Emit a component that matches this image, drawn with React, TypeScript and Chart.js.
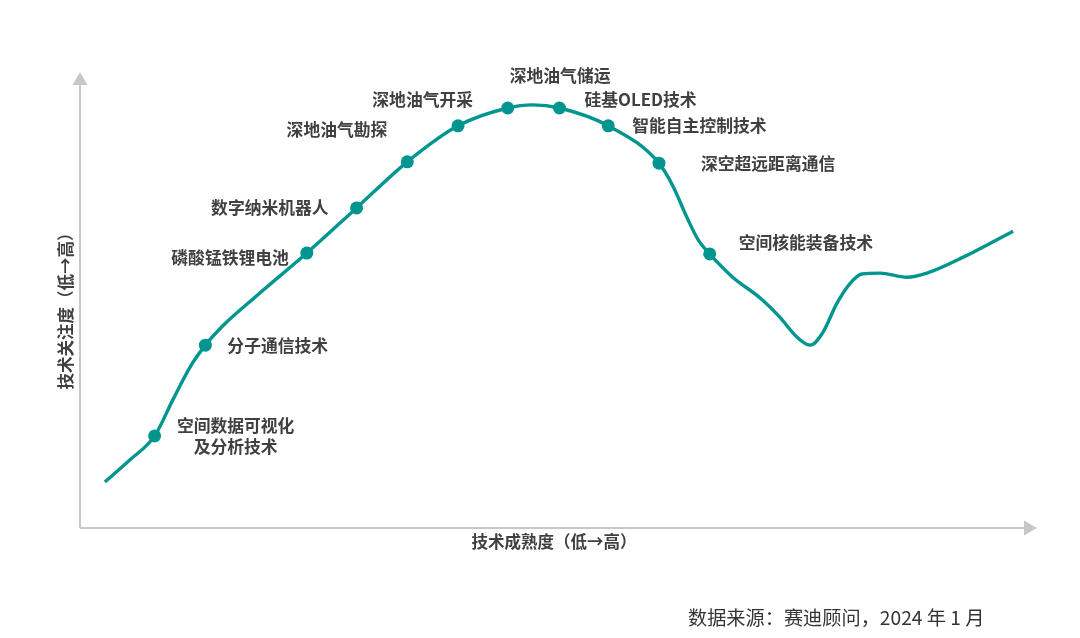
import React, { useEffect, useRef } from 'react';
import { Chart, registerables } from 'chart.js';
import type { Plugin } from 'chart.js';

Chart.register(...registerables);

// curve samples (x = maturity, y = attention)
const curveX = [
  2.6, 5.2, 7.8, 9.7, 11.5, 13.1, 14.9, 18.5, 23.7, 28.9, 34.2, 39.5, 44.7, 47.3, 50.1, 55.2,
  60.5, 62.0, 63.4, 64.6, 65.8, 68.2, 71.1, 73.1, 74.9, 76.3, 77.6, 79.1, 80.5, 81.7, 83.6,
  86.4, 88.5, 92.3, 97.5,
];
const curveY = [
  10.1, 14.9, 20.2, 28.1, 35.3, 40.1, 44.3, 51.0, 60.3, 70.2, 80.3, 88.2, 92.1, 92.8, 92.1, 88.2,
  80.0, 74.8, 68.2, 63.2, 60.1, 55.0, 50.4, 46.3, 41.9, 40.1, 42.8, 49.3, 53.7, 55.7, 55.9,
  55.0, 55.9, 59.4, 65.1,
];
// technology on each sample ('' = no marker)
const techLabels = [
  '', '', '空间数据可视化\n及分析技术', '', '', '分子通信技术', '', '', '磷酸锰铁锂电池', '数字纳米机器人',
  '深地油气勘探', '深地油气开采', '深地油气储运', '', '硅基OLED技术', '智能自主控制技术',
  '深空超远距离通信', '', '', '', '空间核能装备技术', '', '', '', '', '', '', '', '', '', '',
  '', '', '', '',
];

const yTitle = '技术关注度（低→高）';
const xTitle = '技术成熟度（低→高）';
const sourceNote = '数据来源：赛迪顾问，2024 年 1 月';

// where each label sits relative to its marker (px)
const labelPlacement: Record<number, { dx: number; dy: number; align: CanvasTextAlign }> = {
  2: { dx: 81, dy: 0, align: 'center' },
  5: { dx: 22, dy: 0, align: 'left' },
  8: { dx: -18, dy: 5, align: 'right' },
  9: { dx: -28, dy: 0, align: 'right' },
  10: { dx: -20, dy: -32, align: 'right' },
  11: { dx: 15, dy: -26, align: 'right' },
  12: { dx: 2, dy: -32, align: 'left' },
  14: { dx: 25, dy: -8, align: 'left' },
  15: { dx: 24, dy: 0, align: 'left' },
  16: { dx: 42, dy: 0, align: 'left' },
  20: { dx: 29, dy: -11, align: 'left' },
};

const TEAL = '#00968f';
const AXIS = '#c8c8c8';
const FONT = '"Noto Sans CJK SC", "Noto Sans", sans-serif';

const decorPlugin: Plugin<'line'> = {
  id: 'decor',
  beforeDatasetsDraw(chart) {
    const { ctx, chartArea } = chart;
    const { left, right, top, bottom } = chartArea;
    ctx.save();
    ctx.strokeStyle = AXIS;
    ctx.fillStyle = AXIS;
    ctx.lineWidth = 2;
    ctx.beginPath();
    ctx.moveTo(left, bottom);
    ctx.lineTo(left, top + 12);
    ctx.moveTo(left, bottom);
    ctx.lineTo(right - 12, bottom);
    ctx.stroke();
    // arrow heads
    ctx.beginPath();
    ctx.moveTo(left, top);
    ctx.lineTo(left - 7.5, top + 13);
    ctx.lineTo(left + 7.5, top + 13);
    ctx.closePath();
    ctx.fill();
    ctx.beginPath();
    ctx.moveTo(right, bottom);
    ctx.lineTo(right - 13, bottom - 7.5);
    ctx.lineTo(right - 13, bottom + 7.5);
    ctx.closePath();
    ctx.fill();

    ctx.fillStyle = '#404040';
    ctx.font = `bold 16.5px ${FONT}`;
    ctx.textAlign = 'center';
    ctx.textBaseline = 'middle';
    ctx.fillText(xTitle, 554, bottom + 14);
    ctx.translate(left - 14, 307);
    ctx.rotate(-Math.PI / 2);
    ctx.fillText(yTitle, 0, 0);
    ctx.restore();

    ctx.save();
    ctx.fillStyle = '#333333';
    ctx.font = `19.2px ${FONT}`;
    ctx.textAlign = 'left';
    ctx.textBaseline = 'middle';
    ctx.fillText(sourceNote, 688, 618);
    ctx.restore();
  },
  afterDatasetsDraw(chart) {
    const { ctx } = chart;
    const meta = chart.getDatasetMeta(0);
    ctx.save();
    ctx.fillStyle = '#404040';
    ctx.font = `bold 16.8px ${FONT}`;
    ctx.textBaseline = 'middle';
    techLabels.forEach((name, i) => {
      if (!name) return;
      const p = meta.data[i];
      const place = labelPlacement[i];
      if (!p || !place) return;
      const lines = name.split('\n');
      ctx.textAlign = place.align;
      lines.forEach((line, k) => {
        const off = (k - (lines.length - 1) / 2) * 21;
        ctx.fillText(line, p.x + place.dx, p.y + place.dy + off);
      });
    });
    ctx.restore();
  },
};

const App: React.FC = () => {
  const canvasRef = useRef<HTMLCanvasElement>(null);
  const chartRef = useRef<Chart<'line'> | null>(null);

  useEffect(() => {
    if (!canvasRef.current) return;
    if (chartRef.current) chartRef.current.destroy();

    const points = curveX.map((x, i) => ({ x, y: curveY[i] }));
    const radii = techLabels.map((t) => (t ? 6.5 : 0));

    chartRef.current = new Chart(canvasRef.current, {
      type: 'line',
      data: {
        datasets: [
          {
            data: points,
            borderColor: TEAL,
            backgroundColor: TEAL,
            borderWidth: 3.4,
            pointRadius: radii,
            pointHoverRadius: radii,
            pointBorderWidth: 0,
            pointBackgroundColor: TEAL,
            cubicInterpolationMode: 'monotone',
            fill: false,
            clip: false,
          },
        ],
      },
      options: {
        animation: false,
        responsive: true,
        maintainAspectRatio: false,
        layout: { padding: { left: 80, top: 72, right: 43, bottom: 110 } },
        plugins: {
          legend: { display: false },
          tooltip: { enabled: false },
        },
        scales: {
          x: { type: 'linear', min: 0, max: 100, display: false },
          y: { type: 'linear', min: 0, max: 100, display: false },
        },
      },
      plugins: [decorPlugin],
    });

    return () => {
      if (chartRef.current) {
        chartRef.current.destroy();
        chartRef.current = null;
      }
    };
  }, []);

  return (
    <div style={{ position: 'fixed', left: 0, top: 0, width: 1080, height: 638, background: '#fff' }}>
      <canvas ref={canvasRef}></canvas>
    </div>
  );
};

export default App;
